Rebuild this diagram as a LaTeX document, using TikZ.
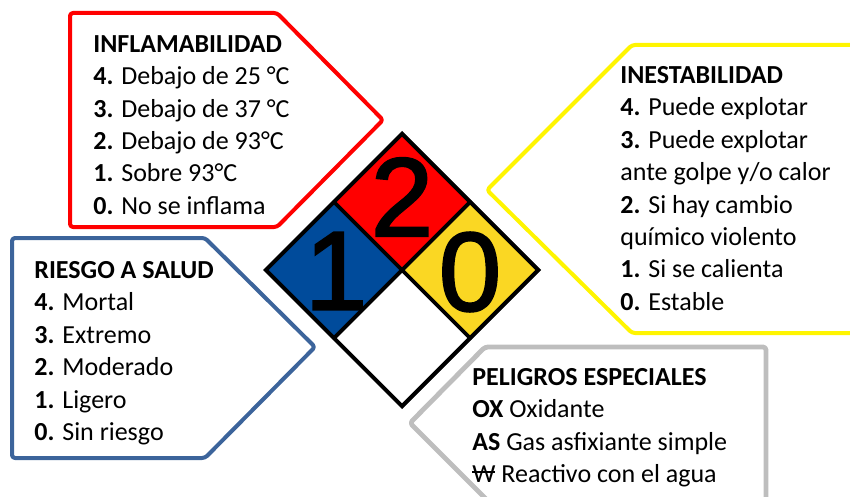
\documentclass[tikz,border=0pt]{standalone}
\usepackage{fontspec}
\setmainfont{Carlito}
\newfontfamily\digitfont[FakeBold=2]{Liberation Sans}
\newcommand{\strikeW}{\rlap{\rule[0.36em]{0.88em}{0.07em}}W}
\definecolor{flamred}{RGB}{255, 0, 0}
\definecolor{saludblue}{RGB}{60, 100, 155}
\definecolor{inestyellow}{RGB}{255, 245, 0}
\definecolor{especgray}{RGB}{190, 190, 190}
\definecolor{nfpablue}{RGB}{0, 75, 155}
\definecolor{nfpared}{RGB}{255, 0, 0}
\definecolor{nfpayellow}{RGB}{250, 215, 35}
\usetikzlibrary{shapes.geometric}

\tikzset{
  callout/.style={line width=2pt, rounded corners=1.5pt, line join=round},
  legend/.style={anchor=north west, inner sep=0pt, align=left, font=\fontsize{13}{16.2}\selectfont},
  quad/.style={diamond, aspect=1, draw=black, line width=1.5pt, minimum width=68.5pt, minimum height=68.5pt, inner sep=0pt},
  digit/.style={inner sep=0pt, font=\digitfont\fontsize{56}{56}\selectfont},
}

\begin{document}
\begin{tikzpicture}[x=0.5pt, y=-0.5pt]
  \clip (0,0) rectangle (850,497);

  % Callouts
  \draw[callout, flamred] (70,13) -- (277,13) -- (383,120) -- (277,227) -- (70,227) -- cycle;
  \draw[callout, saludblue] (12,238) -- (205,238) -- (315,347) -- (205,458) -- (12,458) -- cycle;
  \draw[callout, inestyellow] (880,45) -- (632,45) -- (487,190) -- (632,333) -- (880,333);
  \draw[callout, especgray, line width=2.4pt] (766,530) -- (766,347) -- (485,347) -- (410,423) -- (517,530);

  \node[legend] (inflama) at (93,35) {
    \textbf{INFLAMABILIDAD}\\
    \textbf{4.} Debajo de 25 °C\\
    \textbf{3.} Debajo de 37 °C\\
    \textbf{2.} Debajo de 93°C\\
    \textbf{1.} Sobre 93°C\\
    \textbf{0.} No se inflama
  };
  \node[legend] (salud) at (34,261) {
    \textbf{RIESGO A SALUD}\\
    \textbf{4.} Mortal\\
    \textbf{3.} Extremo\\
    \textbf{2.} Moderado\\
    \textbf{1.} Ligero\\
    \textbf{0.} Sin riesgo
  };
  \node[legend] (inestab) at (620,66) {
    \textbf{INESTABILIDAD}\\
    \textbf{4.} Puede explotar\\
    \textbf{3.} Puede explotar\\
    ante golpe y/o calor\\
    \textbf{2.} Si hay cambio\\
    químico violento\\
    \textbf{1.} Si se calienta\\
    \textbf{0.} Estable
  };
  \node[legend] (especial) at (472,368) {
    \textbf{PELIGROS ESPECIALES}\\
    \textbf{OX} Oxidante\\
    \textbf{AS} Gas asfixiante simple\\
    \strikeW{} Reactivo con el agua
  };

  % NFPA 704 diamond
  \node[quad, fill=nfpablue] (qsalud) at (333.5,270) {};
  \node[quad, fill=nfpared] (qflama) at (402,201.5) {};
  \node[quad, fill=nfpayellow] (qinest) at (470.5,270) {};
  \node[quad, fill=white] (qespec) at (402,338.5) {};
  \node[quad, minimum width=137pt, minimum height=137pt, line width=2pt] (nfpa) at (402,270) {};

  \node[digit] (uno) at (336,271) {1};
  \node[digit] (dos) at (402,197) {2};
  \node[digit] (cero) at (470,272) {0};
\end{tikzpicture}
\end{document}
